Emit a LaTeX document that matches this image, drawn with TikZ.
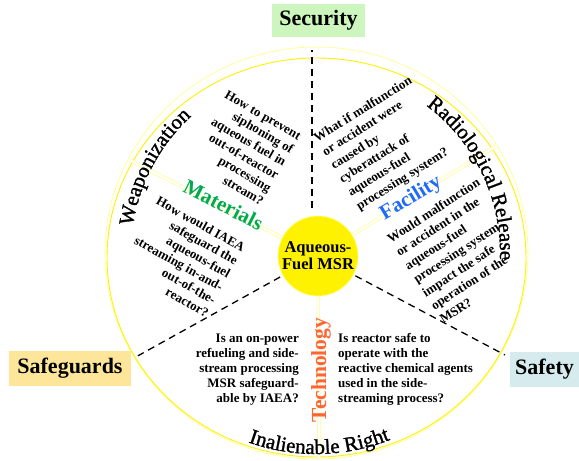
\documentclass[tikz,border=0pt]{standalone}
\usepackage{fontspec}
\setmainfont{Liberation Serif}[BoldFont={Liberation Serif Bold}]
\newfontface\arcface{Liberation Serif}[FakeBold=1.3]
\usetikzlibrary{decorations.text}
\definecolor{secgreen}{RGB}{204,246,190}
\definecolor{sgyellow}{RGB}{253,230,153}
\definecolor{sfblue}{RGB}{214,235,238}
\definecolor{matgreen}{RGB}{0,170,80}
\definecolor{facblue}{RGB}{30,105,255}
\definecolor{techorange}{RGB}{255,102,51}
\definecolor{paleyellow}{RGB}{255,255,130}
\definecolor{ringyellow}{RGB}{255,240,0}
\newcommand\arcfont{\arcface\fontsize{21}{21}\selectfont}
\begin{document}
\begin{tikzpicture}[x=1pt,y=1pt,
  msrnode/.style={circle, fill=yellow, draw=paleyellow, line width=0.6pt, minimum size=80pt, inner sep=0pt, align=center, font=\bfseries\fontsize{16.5}{17}\selectfont},
  spokedash/.style={black, line width=1.3pt, dash pattern=on 7pt off 5pt},
  spokeyel/.style={draw=paleyellow, line width=0.6pt, double=white, double distance=2.2pt},
  catlabel/.style={inner sep=0pt, font=\bfseries\fontsize{21}{21}\selectfont},
  qtext/.style={inner sep=0pt, font=\bfseries\fontsize{13}{15}\selectfont},
  qtextwide/.style={inner sep=0pt, font=\bfseries\fontsize{13}{16}\selectfont},
  titlebox/.style={inner sep=0pt, font=\bfseries\fontsize{22}{22}\selectfont},
  arctext/.style={decorate, decoration={text along path, text align=center, text={|\arcfont|#1}}}
]
\useasboundingbox (0,0) rectangle (579,461);
\fill[white] (0,0) rectangle (579,461);

% rings
\draw[paleyellow, line width=0.6pt] (316.5,208) ellipse [x radius=211.5, y radius=206];
\draw[ringyellow, line width=0.9pt] (316.5,203.5) ellipse [x radius=209.5, y radius=199.5];

% centre
\node[msrnode] (msr) at (318,205) {Aqueous-\\Fuel MSR};

% spoke ends
\coordinate (dUp) at (312,411);
\path (msr.center) ++(209:206) coordinate (dLL);
\path (msr.center) ++(-27.9:211.5) coordinate (dLR);
\path (msr.center) ++(153:211) coordinate (yUL);
\path (msr.center) ++(31.7:211.5) coordinate (yUR);
\coordinate (yDn) at (319,3);

% dashed spokes
\draw[spokedash, shorten <=8pt] (dUp |- msr.north) -- (dUp);
\draw[spokedash, shorten <=3pt] (msr) -- (dLL);
\draw[spokedash, shorten <=2pt] (msr) -- (dLR);

% yellow spokes
\draw[spokeyel] (msr) -- (yUL);
\draw[spokeyel] (msr) -- (yUR);
\draw[spokeyel] (msr) -- (yDn);

% category labels
\node[catlabel, text=matgreen, rotate=-27] (mat) at (223.5,256) {Materials};
\node[catlabel, text=facblue, rotate=31] (fac) at (411,262.5) {Facility};
\node[catlabel, text=techorange, rotate=90, font=\bfseries\fontsize{21.5}{21.5}\selectfont] (tech) at (321,91) {Technology};

% questions
\node[qtext, align=right, rotate=-30, anchor=east] (qUL) at (281.5,291.5)
  {How to prevent\\siphoning of\\aqueous fuel in\\out-of-reactor\\processing\\stream?};
\node[qtext, align=right, rotate=-29, anchor=east] (qLL) at (226,180)
  {How would IAEA\\safeguard the\\aqueous-fuel\\streaming in-and-\\out-of-the-\\reactor?};
\node[qtextwide, align=left, rotate=32, anchor=west] (qUR) at (336.5,287)
  {What if malfunction\\or accident were\\caused by\\cyberattack of\\aqueous-fuel\\processing system?};
\node[qtextwide, align=left, rotate=33, anchor=west] (qLR) at (414.5,181)
  {Would malfunction\\or accident in the\\aqueous-fuel\\processing system\\impact the safe\\operation of the\\MSR?};
\node[qtext, align=right, anchor=east] (qBL) at (299,91)
  {Is an on-power\\refueling and side-\\stream processing\\MSR safeguard-\\able by IAEA?};
\node[qtext, align=left, anchor=west] (qBR) at (338,92)
  {Is reactor safe to\\operate with the\\reactive chemical agents\\used in the side-\\streaming process?};

% arc texts
\path[arctext=Weaponization] (316,208) ++(182:185) arc[start angle=182, end angle=122, radius=185];
\path[arctext=Radiological Release] (316,208) ++(65:184) arc[start angle=65, end angle=-14, radius=184];
\path[arctext=Inalienable Right] (316,208) ++(241:201) arc[start angle=241, end angle=301, radius=201];

% outer boxes
\node[titlebox, fill=secgreen, minimum width=93pt, minimum height=33pt] (sec) at (318.5,440.5) {Security};
\node[titlebox, fill=sgyellow, minimum width=122pt, minimum height=35pt] (sg) at (70,92.5) {Safeguards};
\node[titlebox, fill=sfblue, minimum width=69pt, minimum height=35pt] (sf) at (544.5,91.5) {Safety};
\end{tikzpicture}
\end{document}
